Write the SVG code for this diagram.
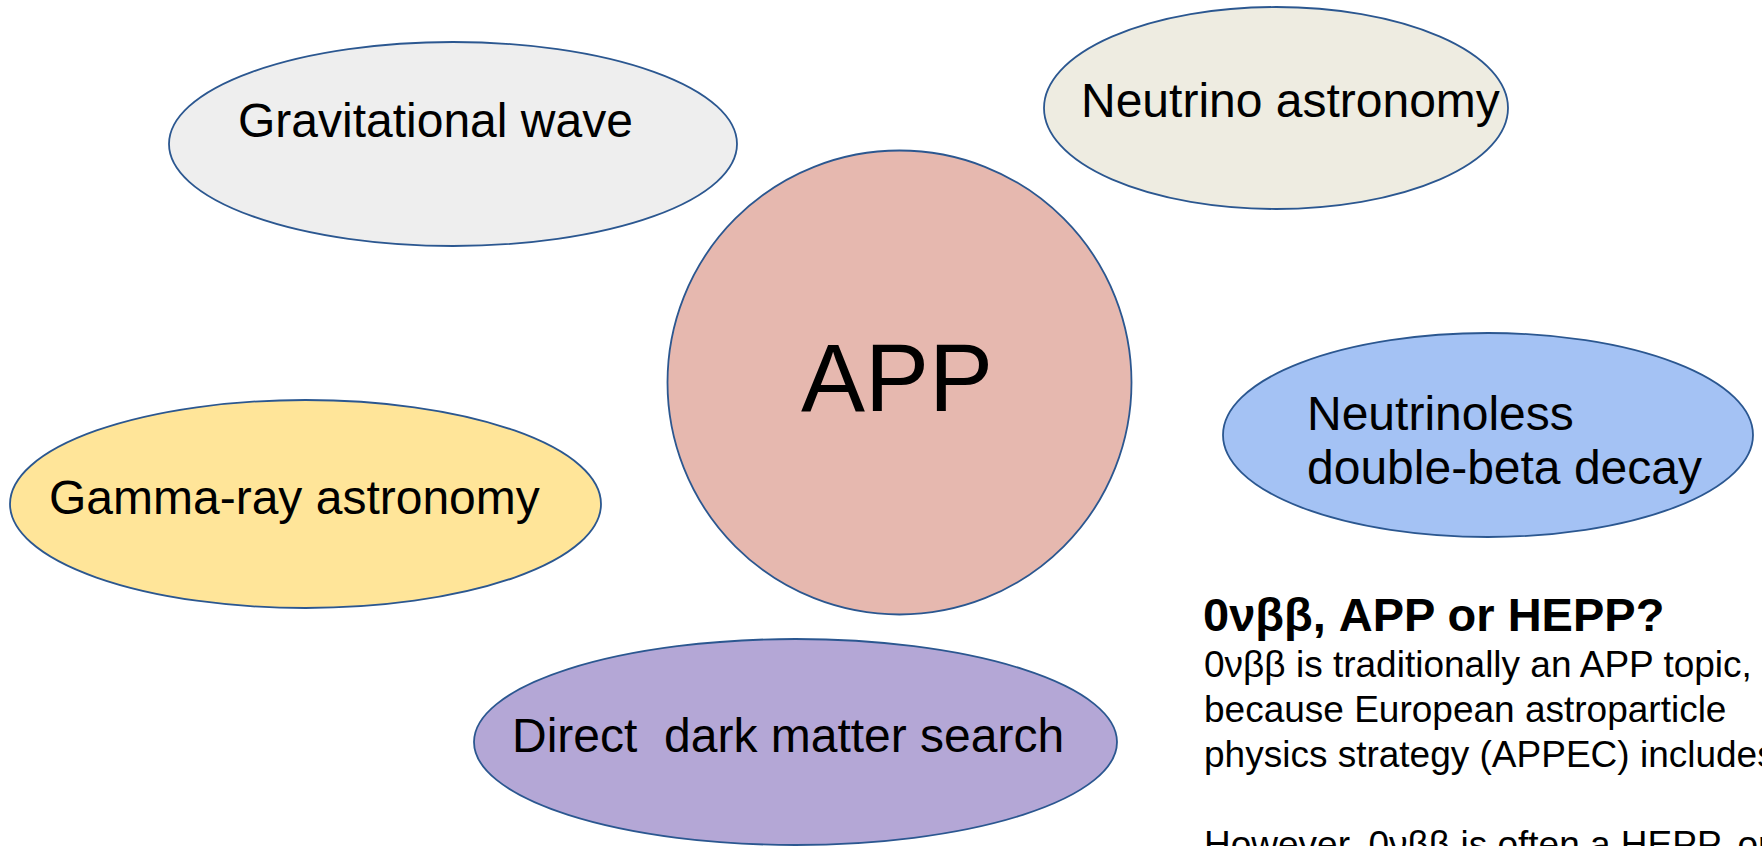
<svg xmlns="http://www.w3.org/2000/svg" width="1762" height="846" viewBox="0 0 1762 846">
<style>
.node{stroke:#2B5790;stroke-width:1.8}
.lbl{font-family:"Liberation Sans",Arial,sans-serif;font-size:48px;fill:#000}
.body{font-family:"Liberation Sans",Arial,sans-serif;font-size:37px;fill:#000}
.head{font-family:"Liberation Sans",Arial,sans-serif;font-size:47px;font-weight:bold;fill:#000}
</style>
<rect width="1762" height="846" fill="#FFFFFF"/>
<g id="connectors"></g>
<g id="gravitational-wave">
<ellipse class="node" cx="453" cy="144" rx="284" ry="102" fill="#EEEEEE"/>
<text class="lbl" x="238" y="137">Gravitational wave</text>
</g>
<g id="neutrino-astronomy">
<ellipse class="node" cx="1276" cy="108" rx="232" ry="101" fill="#EEECE1"/>
<text class="lbl" x="1081" y="117">Neutrino astronomy</text>
</g>
<g id="app">
<circle class="node" cx="899.5" cy="382.5" r="232" fill="#E6B8AF"/>
<text class="lbl" x="897" y="411" font-size="96" text-anchor="middle" style="font-size:96px">APP</text>
</g>
<g id="neutrinoless">
<ellipse class="node" cx="1488" cy="435" rx="265" ry="102" fill="#A4C2F4"/>
<text class="lbl" x="1307" y="430">Neutrinoless</text>
<text class="lbl" x="1307" y="484">double-beta decay</text>
</g>
<g id="gamma-ray">
<ellipse class="node" cx="305.5" cy="504" rx="295.5" ry="104" fill="#FFE599"/>
<text class="lbl" x="49" y="514">Gamma-ray astronomy</text>
</g>
<g id="dark-matter">
<ellipse class="node" cx="795.5" cy="742" rx="321.5" ry="103" fill="#B4A7D6"/>
<text class="lbl" x="512" y="752" xml:space="preserve" style="white-space:pre">Direct  dark matter search</text>
</g>
<g id="note">
<text class="head" x="1203" y="631">0νββ, APP or HEPP?</text>
<text class="body" x="1204" y="677">0νββ is traditionally an APP topic,</text>
<text class="body" x="1204" y="722">because European astroparticle</text>
<text class="body" x="1204" y="767">physics strategy (APPEC) includes</text>
<text class="body" x="1204" y="857">However, 0νββ is often a HEPP, or</text>
</g>
</svg>
